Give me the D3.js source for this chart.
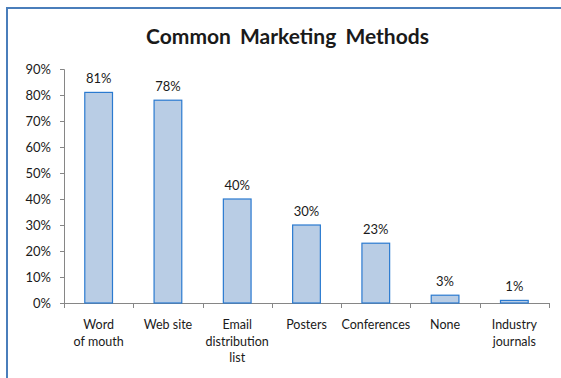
<!DOCTYPE html>
<html>
<head>
<meta charset="utf-8">
<script src="https://cdn.jsdelivr.net/npm/d3@7"></script>
<style>
  html, body { margin: 0; padding: 0; background: #fff; }
  svg { display: block; }
  text { font-family: Lato, "Open Sans", sans-serif; fill: #1a1a1a; }
</style>
</head>
<body>
<svg id="chart" width="561" height="378"></svg>
<script>
// Survey results: share of respondents using each marketing method
const categories = [
  ["Word", "of mouth"],
  ["Web site"],
  ["Email", "distribution", "list"],
  ["Posters"],
  ["Conferences"],
  ["None"],
  ["Industry", "journals"]
];
const values = [81, 78, 40, 30, 23, 3, 1];
const yTicks = [0, 10, 20, 30, 40, 50, 60, 70, 80, 90];
const title = "Common Marketing Methods";

const svg = d3.select("#chart");
const W = 561, H = 378;
const x0 = 64, x1 = 549, yBottom = 303, yTop = 69;

// Outer frame (left and top edges visible)
svg.append("rect")
  .attr("x", 7).attr("y", 8)
  .attr("width", W + 10).attr("height", H + 10)
  .attr("fill", "none")
  .attr("stroke", "#4a7ebb")
  .attr("stroke-width", 2);

const keys = categories.map((c, i) => i);
const x = d3.scaleBand().domain(keys).range([x0, x1]).paddingInner(0.6).paddingOuter(0.3);
const y = d3.scaleLinear().domain([0, 90]).range([yBottom, yTop]);

// Title
svg.append("text")
  .attr("x", 287.5).attr("y", 44)
  .attr("text-anchor", "middle")
  .style("font-size", "21px")
  .style("font-weight", "bold")
  .style("word-spacing", "4px")
  .text(title);

// Y axis
const yAxis = d3.axisLeft(y).tickValues(yTicks).tickSize(4).tickPadding(9)
  .tickFormat(d => d + "%");
const gy = svg.append("g").attr("transform", `translate(${x0},0)`).call(yAxis);
gy.select(".domain").attr("stroke", "#868686");
gy.selectAll(".tick line").attr("stroke", "#868686");
gy.selectAll(".tick text").style("font-size", "13px").style("font-family", "Lato, sans-serif").attr("fill", "#1a1a1a");

// X axis baseline with boundary ticks between categories
const bandStep = (x1 - x0) / categories.length;
svg.append("line")
  .attr("x1", x0).attr("x2", x1).attr("y1", yBottom + 0.5).attr("y2", yBottom + 0.5)
  .attr("stroke", "#868686");
svg.append("g").selectAll("line")
  .data(d3.range(categories.length + 1))
  .join("line")
  .attr("x1", i => Math.round(x0 + i * bandStep) + 0.5)
  .attr("x2", i => Math.round(x0 + i * bandStep) + 0.5)
  .attr("y1", yBottom).attr("y2", yBottom + 5)
  .attr("stroke", "#868686");

// Bars
svg.append("g").selectAll("rect")
  .data(values)
  .join("rect")
  .attr("x", (d, i) => x(i))
  .attr("y", d => y(d))
  .attr("width", x.bandwidth())
  .attr("height", d => yBottom - y(d))
  .attr("fill", "#b9cde5")
  .attr("stroke", "#2a7ad0")
  .attr("stroke-width", 1.2);

// Value labels
svg.append("g").selectAll("text")
  .data(values)
  .join("text")
  .attr("x", (d, i) => x(i) + x.bandwidth() / 2)
  .attr("y", d => y(d) - 9)
  .attr("text-anchor", "middle")
  .style("font-size", "13px")
  .text(d => d + "%");

// Category labels (multi-line)
const catG = svg.append("g").selectAll("text")
  .data(categories)
  .join("text")
  .attr("text-anchor", "middle")
  .style("font-size", "12.5px")
  .attr("transform", (d, i) => `translate(${x(i) + x.bandwidth() / 2},329)`);
catG.selectAll("tspan")
  .data(d => d)
  .join("tspan")
  .attr("x", 0)
  .attr("y", (d, j) => j * 16.5)
  .text(d => d);
</script>
</body>
</html>
